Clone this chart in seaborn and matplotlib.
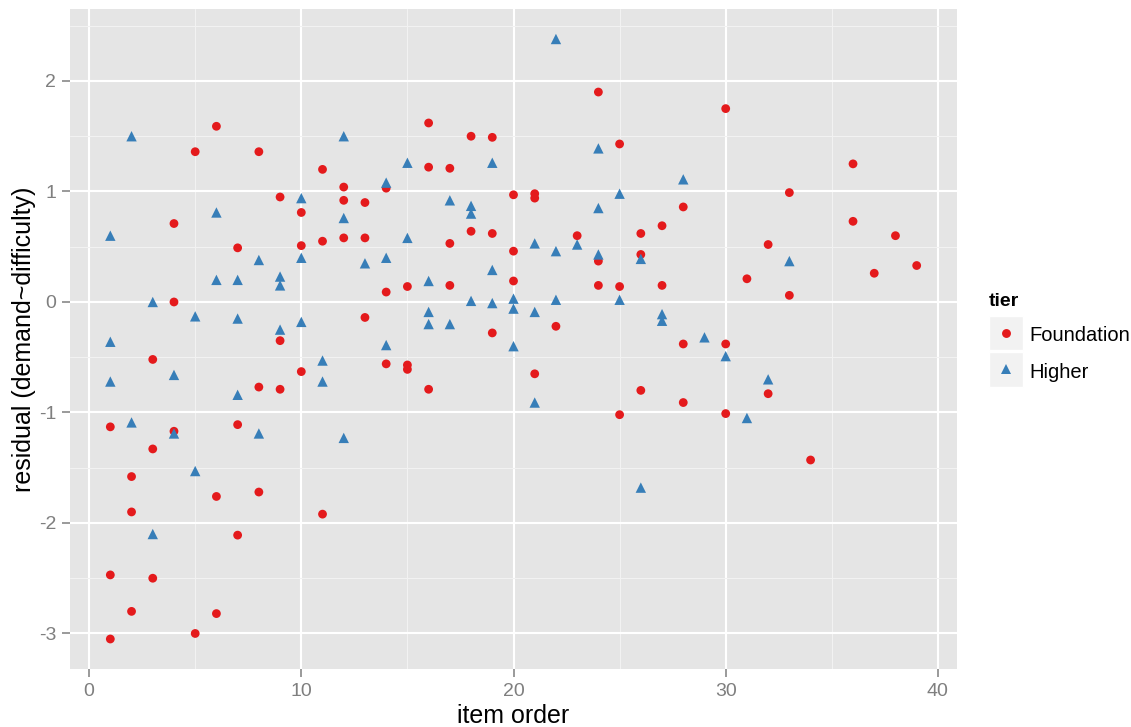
import matplotlib
matplotlib.use("Agg")
import matplotlib.pyplot as plt
import numpy as np
import pandas as pd
import seaborn as sns
from matplotlib.lines import Line2D
from matplotlib.patches import Rectangle
from matplotlib.ticker import MultipleLocator

# Residuals by item position, split by exam tier
foundation_item = [1, 1, 1, 2, 2, 2, 3, 3, 3, 4, 4, 4, 5, 5, 6, 6, 6, 7, 7, 7,
                   8, 8, 8, 9, 9, 9, 10, 10, 10, 11, 11, 11, 12, 12, 12, 13, 13, 13,
                   14, 14, 14, 15, 15, 15, 16, 16, 16, 17, 17, 17, 18, 18, 19, 19, 19,
                   20, 20, 20, 21, 21, 21, 22, 23, 24, 24, 24, 25, 25, 25, 26, 26, 26,
                   27, 27, 28, 28, 28, 30, 30, 30, 31, 32, 32, 33, 33, 34, 36, 36,
                   37, 38, 39]
foundation_resid = [-1.13, -2.47, -3.05, -1.58, -1.90, -2.80, -0.52, -1.33, -2.50,
                    0.71, 0.00, -1.17, 1.36, -3.00, 1.59, -1.76, -2.82, 0.49, -1.11, -2.11,
                    1.36, -0.77, -1.72, 0.95, -0.35, -0.79, 0.81, 0.51, -0.63,
                    1.20, 0.55, -1.92, 1.04, 0.92, 0.58, 0.90, 0.58, -0.14,
                    1.03, 0.09, -0.56, 0.14, -0.57, -0.61, 1.62, 1.22, -0.79,
                    1.21, 0.53, 0.15, 1.50, 0.64, 1.49, 0.62, -0.28,
                    0.97, 0.46, 0.19, 0.98, 0.94, -0.65, -0.22, 0.60, 1.90, 0.37, 0.15,
                    1.43, 0.14, -1.02, 0.62, 0.43, -0.80, 0.69, 0.15, 0.86, -0.38, -0.91,
                    1.75, -0.38, -1.01, 0.21, 0.52, -0.83, 0.99, 0.06, -1.43, 1.25, 0.73,
                    0.26, 0.60, 0.33]

higher_item = [1, 1, 1, 2, 2, 3, 3, 4, 4, 5, 5, 6, 6, 7, 7, 7, 8, 8, 9, 9, 9,
               10, 10, 10, 11, 11, 12, 12, 12, 13, 14, 14, 14, 15, 15, 16, 16, 16,
               17, 17, 18, 18, 18, 19, 19, 19, 20, 20, 20, 21, 21, 21, 22, 22, 22,
               23, 24, 24, 24, 25, 25, 26, 26, 27, 27, 28, 29, 30, 31, 32, 33]
higher_resid = [0.60, -0.36, -0.72, 1.50, -1.09, 0.00, -2.10, -0.66, -1.19, -0.13, -1.53,
                0.81, 0.20, 0.20, -0.15, -0.84, 0.38, -1.19, 0.23, 0.15, -0.25,
                0.94, 0.40, -0.18, -0.53, -0.72, 1.50, 0.76, -1.23, 0.35, 1.08, 0.40, -0.39,
                1.26, 0.58, 0.19, -0.09, -0.20, 0.92, -0.20, 0.87, 0.80, 0.01,
                1.26, 0.29, -0.01, 0.03, -0.06, -0.40, 0.53, -0.09, -0.91, 2.38, 0.46, 0.02,
                0.52, 1.39, 0.85, 0.43, 0.98, 0.02, 0.39, -1.68, -0.11, -0.17, 1.11, -0.32,
                -0.49, -1.05, -0.70, 0.37]

tier_names = ["Foundation", "Higher"]
tier_colors = {"Foundation": "#E41A1C", "Higher": "#377EB8"}
tier_markers = {"Foundation": "o", "Higher": "^"}
tier_sizes = {"Foundation": 40, "Higher": 56}

df = pd.DataFrame({
    "item": foundation_item + higher_item,
    "resid": foundation_resid + higher_resid,
    "tier": ["Foundation"] * len(foundation_item) + ["Higher"] * len(higher_item),
})

sns.set_theme(style="darkgrid", rc={
    "axes.facecolor": "#E5E5E5",
    "grid.color": "white",
    "axes.unicode_minus": False,
    "text.color": "black",
})
plt.rcParams["font.family"] = ["Liberation Sans", "DejaVu Sans"]

W, H = 1131, 727
fig = plt.figure(figsize=(W / 100, H / 100), dpi=100)
fig.patch.set_facecolor("white")
ax = fig.add_axes([70 / W, 1 - 669 / H, (957 - 70) / W, (669 - 9) / H])

sns.scatterplot(data=df, x="item", y="resid", hue="tier", style="tier", size="tier",
                hue_order=tier_names, style_order=tier_names, size_order=tier_names,
                palette=tier_colors, markers=tier_markers, sizes=tier_sizes,
                linewidth=0, alpha=1, legend=False, ax=ax, zorder=3)

# ggplot-style 5% expansion of the data range
xmin, xmax = min(df["item"]), max(df["item"])
ymin, ymax = min(df["resid"]), max(df["resid"])
xpad, ypad = 0.05 * (xmax - xmin), 0.05 * (ymax - ymin)
ax.set_xlim(xmin - xpad, xmax + xpad)
ax.set_ylim(ymin - ypad, ymax + ypad)

ax.xaxis.set_major_locator(MultipleLocator(10))
ax.xaxis.set_minor_locator(MultipleLocator(5))
ax.yaxis.set_major_locator(MultipleLocator(1))
ax.yaxis.set_minor_locator(MultipleLocator(0.5))
ax.grid(which="major", color="white", linewidth=1.5)
ax.grid(which="minor", color="#F2F2F2", linewidth=0.8)
ax.set_axisbelow(True)
for sp in ax.spines.values():
    sp.set_visible(False)

ax.tick_params(which="major", direction="out", length=6, width=1.1, color="#7F7F7F",
               labelcolor="#7F7F7F", labelsize=14, pad=4,
               bottom=True, left=True)
ax.tick_params(which="minor", length=0)

ax.set_xlabel("item order", fontsize=18, color="black", labelpad=3)
ax.set_ylabel("residual (demand~difficulty)", fontsize=18, color="black", labelpad=2)

# Legend drawn in figure pixel space
def fx(px):
    return px / W

def fy(py):
    return 1 - py / H

fig.text(fx(989), fy(306), "tier", fontsize=14, fontweight="bold", va="baseline",
         ha="left", color="black")
key_boxes = [(316, 350), (352, 387)]
label_base = [341, 378]
marker_y = [333, 369]
for name, (top, bot), base, my in zip(tier_names, key_boxes, label_base, marker_y):
    fig.patches.append(Rectangle((fx(989), fy(bot)), (1023 - 989) / W, (bot - top) / H,
                                 transform=fig.transFigure, facecolor="#F2F2F2",
                                 edgecolor="white", linewidth=1))
    ms = 6.4 if name == "Foundation" else 7.6
    fig.add_artist(Line2D([fx(1006)], [fy(my)], marker=tier_markers[name], markersize=ms,
                          color=tier_colors[name], linestyle="none", markeredgewidth=0,
                          transform=fig.transFigure))
    fig.text(fx(1029), fy(base), name, fontsize=14.5, va="baseline", ha="left",
             color="black")

fig.savefig("out.png", dpi=100)
